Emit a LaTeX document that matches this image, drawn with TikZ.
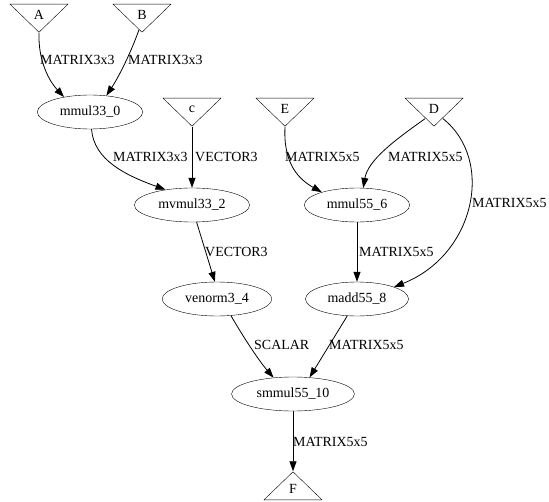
\documentclass[tikz,border=0pt]{standalone}
\usepackage{fontspec}
\setmainfont{Liberation Serif}
\usetikzlibrary{shapes.geometric,arrows.meta,calc}
\tikzset{
  op/.style={draw, ellipse, minimum height=34bp, inner xsep=7bp, inner ysep=0pt},
  invtri/.style={draw, isosceles triangle, isosceles triangle stretches, shape border rotate=-90,
    minimum width=58bp, minimum height=28bp, inner sep=0pt, anchor=lower side},
  outtri/.style={invtri, shape border rotate=90},
  lbl/.style={anchor=west, inner sep=0pt},
  edge/.style={-{Triangle[length=10bp,width=7bp]}, line width=0.8pt},
}
\begin{document}
\begin{tikzpicture}[x=1bp, y=-1bp, font=\fontsize{14}{16}\selectfont]
\useasboundingbox (0,0) rectangle (549,502);
% inputs
\node[invtri] (A) at (39,4) {A};
\node[invtri] (B) at (142,4) {B};
\node[invtri] (c) at (192,98) {c};
\node[invtri] (E) at (285,98) {E};
\node[invtri] (D) at (434,98) {D};
% operations
\node[op] (mmul0) at (90,112) {mmul33\_0};
\node[op] (mvmul2) at (192,205) {mvmul33\_2};
\node[op] (mmul6) at (357,205) {mmul55\_6};
\node[op] (venorm4) at (217,299) {venorm3\_4};
\node[op] (madd8) at (357,299) {madd55\_8};
\node[op] (smmul10) at (293,394) {smmul55\_10};
% output
\node[outtri] (F) at (293,500) {F};

\draw[edge] (A.apex) .. controls (38,62) and (50,82) .. (mmul0.150);
\draw[edge] ($(B.apex)+(-3,-3)$) .. controls (130,55) and (118,78) .. (mmul0.45);
\draw[edge] (mmul0.-85) .. controls (94,160) and (125,175) .. (mvmul2.150);
\draw[edge] (c.apex) -- (mvmul2.north);
\draw[edge] (E.apex) .. controls (283,165) and (300,180) .. (mmul6.160);
\draw[edge] ($(D.apex)+(-9,-8)$) .. controls (395,140) and (368,160) .. (mmul6.70);
\draw[edge] ($(D.apex)+(9,-8)$) .. controls (495,160) and (475,255) .. (madd8.18);
\draw[edge] (mvmul2.-75) -- (venorm4.97);
\draw[edge] (mmul6.south) -- (madd8.north);
\draw[edge] (venorm4.-50) .. controls (245,340) and (260,362) .. (smmul10.140);
\draw[edge] (madd8.-120) -- (smmul10.45);
\draw[edge] (smmul10.south) -- (F.apex);

% edge labels
\node[lbl] (lA) at (40,60) {MATRIX3x3};
\node[lbl] (lB) at (128,60) {MATRIX3x3};
\node[lbl] (lmmul0) at (113,157) {MATRIX3x3};
\node[lbl] (lc) at (195,157) {VECTOR3};
\node[lbl] (lE) at (285,157) {MATRIX5x5};
\node[lbl] (lDm) at (388,157) {MATRIX5x5};
\node[lbl] (lDa) at (472,203) {MATRIX5x5};
\node[lbl] (lmvmul2) at (205,252) {VECTOR3};
\node[lbl] (lmmul6) at (359,252) {MATRIX5x5};
\node[lbl] (lvenorm4) at (254,345) {SCALAR};
\node[lbl] (lmadd8) at (329,345) {MATRIX5x5};
\node[lbl] (lsmmul10) at (293,442) {MATRIX5x5};
\end{tikzpicture}
\end{document}
